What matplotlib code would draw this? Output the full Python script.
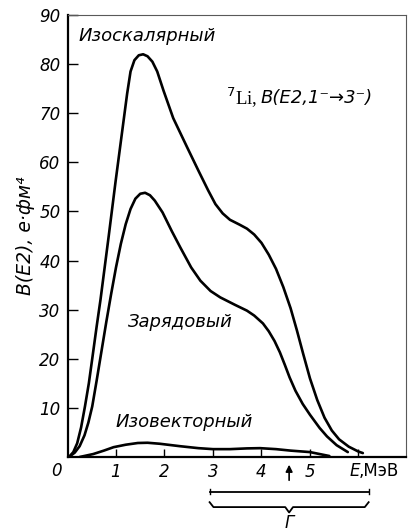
import numpy as np
import matplotlib.pyplot as plt

# кривые B(E2) для 7Li
e_isoscal = [0.03, 0.12, 0.2, 0.28, 0.36, 0.44, 0.51, 0.6, 0.68, 0.85, 0.99, 1.13, 1.23, 1.3, 1.38,
             1.47, 1.56, 1.65, 1.75, 1.85, 1.98, 2.18, 2.47, 2.7, 2.9, 3.05, 3.2, 3.35, 3.55, 3.7,
             3.85, 4.0, 4.15, 4.3, 4.45, 4.6, 4.73, 4.86, 5.0, 5.15, 5.3, 5.45, 5.6, 5.8, 6.0, 6.09]
b_isoscal = [0, 1, 2.8, 6, 10.3, 15, 20, 26.5, 32, 45, 56, 66.5, 74, 78.5, 80.8,
             81.8, 82, 81.6, 80.5, 78.5, 74.6, 69, 63, 58.3, 54.3, 51.5, 49.6, 48.3, 47.3, 46.5,
             45.3, 43.6, 41.2, 38.3, 34.6, 30.3, 25.8, 21, 16, 11.6, 8, 5.4, 3.6, 2.1, 1.1, 0.8]

e_charge = [0.03, 0.15, 0.25, 0.35, 0.43, 0.51, 0.6, 0.7, 0.8, 0.9, 1.0, 1.1, 1.2, 1.3, 1.4,
            1.5, 1.6, 1.7, 1.8, 1.96, 2.15, 2.33, 2.55, 2.74, 2.95, 3.15, 3.45, 3.7, 3.85, 4.03,
            4.15, 4.27, 4.38, 4.48, 4.58, 4.7, 4.85, 5.0, 5.2, 5.35, 5.55, 5.78]
b_charge = [0, 0.9, 2.2, 4.4, 7, 10.3, 15.5, 21.5, 27.5, 33.2, 38.6, 43.4, 47.4, 50.5, 52.6,
            53.6, 53.8, 53.3, 52.2, 49.8, 46, 42.6, 38.6, 35.9, 33.8, 32.5, 31, 29.8, 28.8, 27.2,
            25.6, 23.6, 21.3, 18.8, 16.2, 13.5, 10.8, 8.6, 5.9, 4.2, 2.4, 1.0]

e_isovec = [0.25, 0.53, 0.75, 0.95, 1.2, 1.45, 1.65, 1.9, 2.32, 2.7, 3.0, 3.35, 3.7, 3.97,
            4.3, 4.6, 5.0, 5.2, 5.4]
b_isovec = [0, 0.6, 1.3, 2.0, 2.5, 2.85, 2.9, 2.7, 2.2, 1.8, 1.6, 1.6, 1.75, 1.8,
            1.6, 1.3, 1.0, 0.6, 0.2]

yticks = [10, 20, 30, 40, 50, 60, 70, 80, 90]
xticks = [1, 2, 3, 4, 5, 6]
xticklabels = ['1', '2', '3', '4', '5', '']
e_arrow = 4.57          # стрелка под осью
gamma_range = (2.93, 6.21)  # ширина Г

fig = plt.figure(figsize=(4.08, 5.32), dpi=100)
ax = fig.add_axes([67.5/408, 1-457/532, (406-67.5)/408, (457-15)/532])

for x, y in [(e_isoscal, b_isoscal), (e_charge, b_charge), (e_isovec, b_isovec)]:
    ax.plot(x, y, color='black', lw=1.9, solid_capstyle='round', solid_joinstyle='round')

ax.set_xlim(0, 6.98)
ax.set_ylim(0, 90)
ax.set_yticks(yticks)
ax.set_yticklabels([str(v) for v in yticks], fontsize=12, style='italic')
ax.set_xticks(xticks)
ax.set_xticklabels(xticklabels, fontsize=12, style='italic')
ax.tick_params(axis='y', direction='in', length=7, width=1, pad=5)
ax.tick_params(axis='x', direction='in', length=5.5, width=1, pad=4)

for s in ['left', 'bottom']:
    ax.spines[s].set_linewidth(1.6)
for s in ['top', 'right']:
    ax.spines[s].set_linewidth(0.8)
    ax.spines[s].set_color('0.35')
    ax.spines[s].set_linestyle((0, (5, 1)))

ax.text(-0.12, -1.0, '0', fontsize=12, style='italic', ha='right', va='top')
ax.text(5.82, -1.0, 'E', fontsize=12, style='italic', ha='left', va='top')
ax.text(6.01, -1.0, ',МэВ', fontsize=12, ha='left', va='top')

ax.set_ylabel('B(E2), e·фм⁴', fontsize=13.5, style='italic')
ax.yaxis.set_label_coords(-0.097, 0.5)

ax.text(0.22, 85.8, 'Изоскалярный', fontsize=13, style='italic', va='center')
ax.text(1.25, 27.5, 'Зарядовый', fontsize=13, style='italic', va='center')
ax.text(0.98, 7.2, 'Изовекторный', fontsize=13, style='italic', va='center')

ax.text(3.27, 73.2, '$^7$Li,', fontsize=13.5, family='Liberation Serif', va='center')
ax.text(3.98, 73.2, 'B(E2,1⁻→3⁻)', fontsize=13, style='italic', va='center')

# стрелка
ax.annotate('', xy=(e_arrow, -1.0), xytext=(e_arrow, -5.3),
            arrowprops=dict(arrowstyle='-|>', color='black', lw=1.2, mutation_scale=10),
            annotation_clip=False)

# отрезок и фигурная скобка Г
g0, g1 = gamma_range
gm = (g0 + g1) / 2
ax.plot([g0, g1], [-7.1, -7.1], color='black', lw=1.3, clip_on=False)
ax.plot([g0, g0], [-6.6, -7.6], color='black', lw=1.0, clip_on=False)
ax.plot([g1, g1], [-6.6, -7.6], color='black', lw=1.0, clip_on=False)
bx = [g0, g0 + 0.08, gm - 0.08, gm, gm + 0.08, g1 - 0.08, g1]
by = [-9.2, -10.2, -10.2, -11.3, -10.2, -10.2, -9.2]
ax.plot(bx, by, color='black', lw=1.3, clip_on=False)
ax.text(gm, -14.4, 'Г', fontsize=12, style='italic', ha='center', va='baseline')

fig.savefig('out.png', dpi=100)
